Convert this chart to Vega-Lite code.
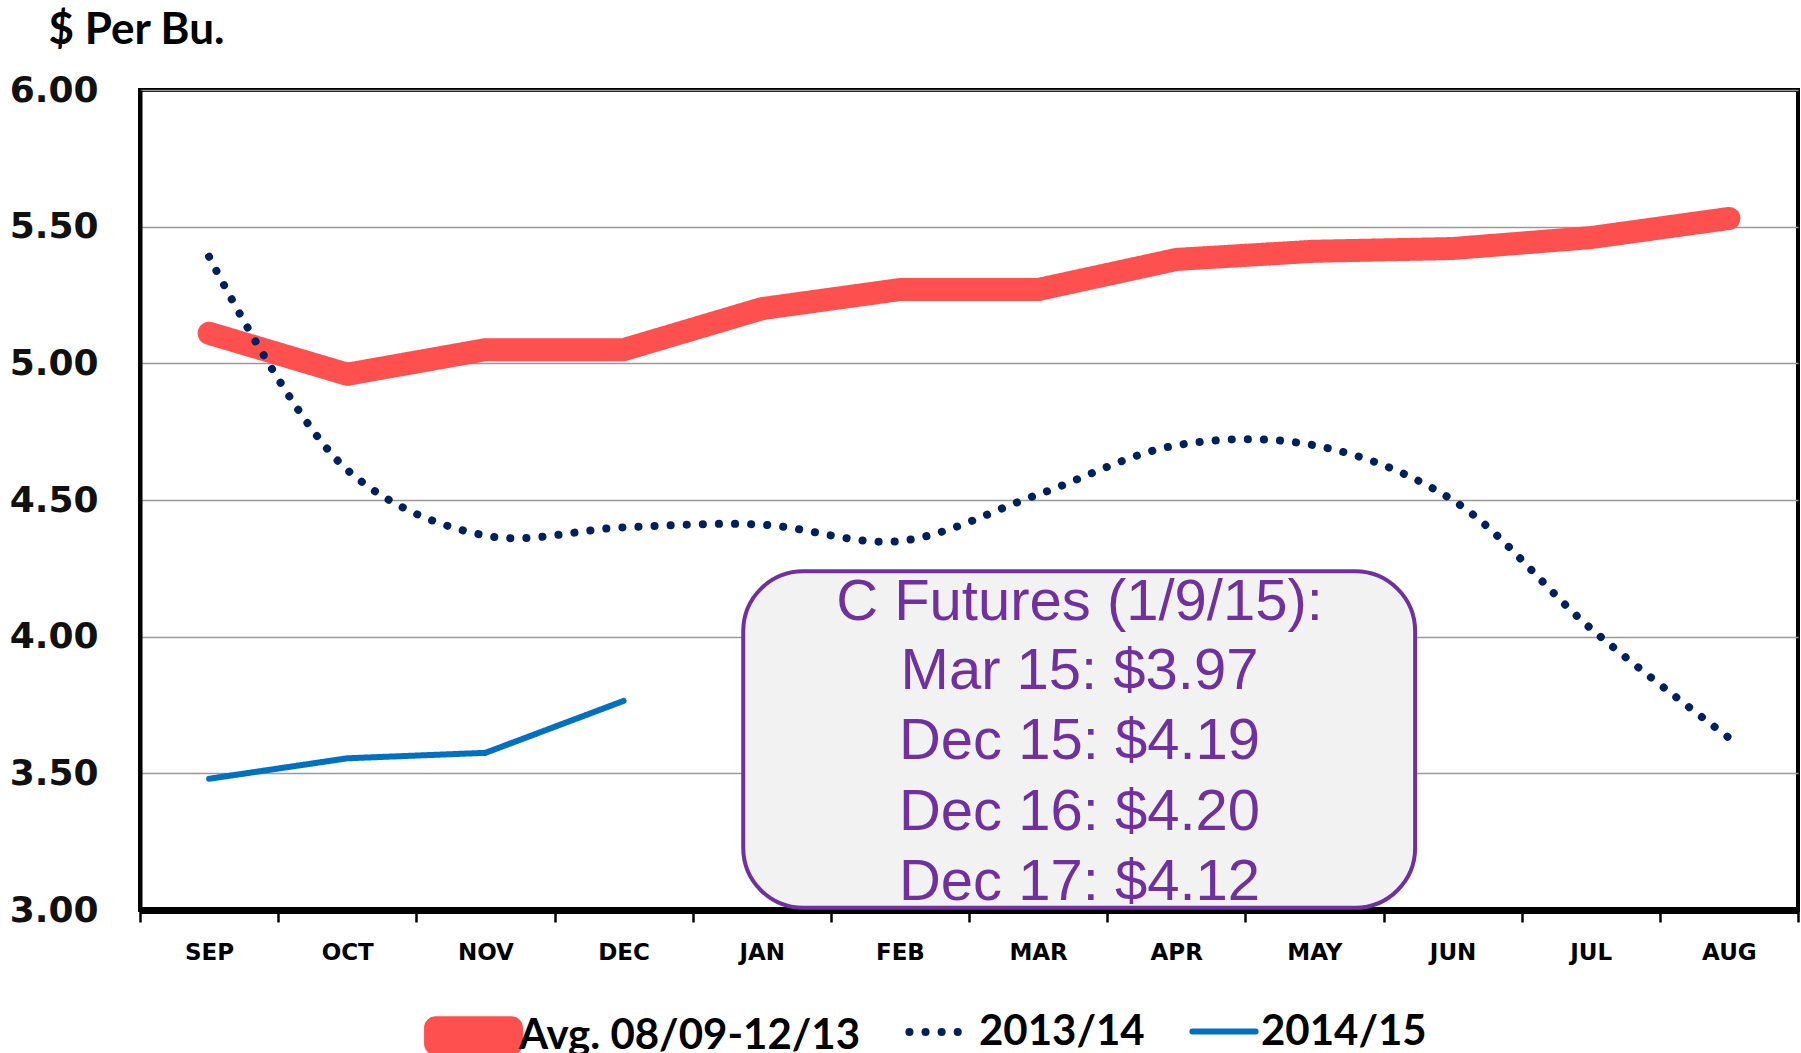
{
  "$schema": "https://vega.github.io/schema/vega-lite/v6.json",
  "width": 1658,
  "height": 820,
  "autosize": {"type": "none"},
  "padding": {"left": 140, "top": 90, "right": 3, "bottom": 143},
  "background": "white",
  "config": {
    "view": {"stroke": "black", "strokeWidth": 4},
    "legend": {
      "orient": "none",
      "direction": "horizontal",
      "legendX": 290,
      "legendY": 902,
      "symbolType": "M-1,0H1",
      "symbolSize": 4000,
      "symbolStrokeWidth": 7,
      "labelFont": "Lato",
      "labelFontSize": 42,
      "labelFontWeight": "bold",
      "labelColor": "black",
      "labelLimit": 600,
      "labelOffset": 2,
      "columnPadding": 44,
      "padding": 0,
      "title": null
    }
  },
  "datasets": {
    "prices": [
      {"month": "SEP", "series": "Avg. 08/09-12/13", "price": 5.11},
      {"month": "OCT", "series": "Avg. 08/09-12/13", "price": 4.96},
      {"month": "NOV", "series": "Avg. 08/09-12/13", "price": 5.05},
      {"month": "DEC", "series": "Avg. 08/09-12/13", "price": 5.05},
      {"month": "JAN", "series": "Avg. 08/09-12/13", "price": 5.20},
      {"month": "FEB", "series": "Avg. 08/09-12/13", "price": 5.27},
      {"month": "MAR", "series": "Avg. 08/09-12/13", "price": 5.27},
      {"month": "APR", "series": "Avg. 08/09-12/13", "price": 5.38},
      {"month": "MAY", "series": "Avg. 08/09-12/13", "price": 5.41},
      {"month": "JUN", "series": "Avg. 08/09-12/13", "price": 5.42},
      {"month": "JUL", "series": "Avg. 08/09-12/13", "price": 5.46},
      {"month": "AUG", "series": "Avg. 08/09-12/13", "price": 5.53},
      {"month": "SEP", "series": "2013/14", "price": 5.39},
      {"month": "OCT", "series": "2013/14", "price": 4.61},
      {"month": "NOV", "series": "2013/14", "price": 4.37},
      {"month": "DEC", "series": "2013/14", "price": 4.40},
      {"month": "JAN", "series": "2013/14", "price": 4.41},
      {"month": "FEB", "series": "2013/14", "price": 4.35},
      {"month": "MAR", "series": "2013/14", "price": 4.52},
      {"month": "APR", "series": "2013/14", "price": 4.70},
      {"month": "MAY", "series": "2013/14", "price": 4.70},
      {"month": "JUN", "series": "2013/14", "price": 4.50},
      {"month": "JUL", "series": "2013/14", "price": 4.03},
      {"month": "AUG", "series": "2013/14", "price": 3.63},
      {"month": "SEP", "series": "2014/15", "price": 3.48},
      {"month": "OCT", "series": "2014/15", "price": 3.555},
      {"month": "NOV", "series": "2014/15", "price": 3.575},
      {"month": "DEC", "series": "2014/15", "price": 3.765}
    ],
    "box": [
      {"left": 4.366, "right": 9.229, "top": 4.239, "bottom": 3.008}
    ],
    "boxText": [
      {"text": "C Futures (1/9/15):", "xpos": 6.80, "ypos": 4.125},
      {"text": "Mar 15: $3.97", "xpos": 6.80, "ypos": 3.869},
      {"text": "Dec 15: $4.19", "xpos": 6.80, "ypos": 3.613},
      {"text": "Dec 16: $4.20", "xpos": 6.80, "ypos": 3.356},
      {"text": "Dec 17: $4.12", "xpos": 6.80, "ypos": 3.100}
    ]
  },
  "layer": [
    {
      "data": {"name": "prices"},
      "encoding": {
        "x": {
          "field": "month", "type": "nominal",
          "scale": {"type": "band", "domain": ["SEP","OCT","NOV","DEC","JAN","FEB","MAR","APR","MAY","JUN","JUL","AUG"], "paddingInner": 0, "paddingOuter": 0},
          "axis": {
            "title": null, "labelAngle": 0, "tickBand": "extent",
            "domainColor": "black", "domainWidth": 7,
            "tickColor": "black", "tickWidth": 2.5, "tickSize": 12,
            "labelFont": "DejaVu Sans", "labelFontWeight": "bold", "labelFontSize": 23, "labelColor": "black",
            "labelPadding": 19, "grid": false
          }
        },
        "y": {
          "field": "price", "type": "quantitative",
          "scale": {"domain": [3, 6], "nice": false, "zero": false},
          "axis": {
            "title": "$ Per Bu.", "titleAngle": 0, "titleAlign": "left", "titleBaseline": "middle",
            "titleX": -92, "titleY": -60, "titleFont": "Lato", "titleFontSize": 44, "titleFontWeight": "bold", "titleColor": "black",
            "values": [3, 3.5, 4, 4.5, 5, 5.5, 6], "format": ".2f",
            "ticks": false, "domainColor": "black", "domainWidth": 4,
            "grid": true, "gridColor": "#9a9a9a", "gridWidth": 1.5,
            "labelFont": "DejaVu Sans", "labelFontWeight": "bold", "labelFontSize": 36, "labelColor": "#111111",
            "labelPadding": 42
          }
        },
        "color": {"field": "series", "type": "nominal", "scale": {"domain": ["Avg. 08/09-12/13", "2013/14", "2014/15"], "range": ["#FF5050", "#002060", "#0070C0"]}, "legend": {"symbolType": "M-1,0H1", "encode": {"symbols": {"update": {"strokeCap": {"value": "round"}, "strokeJoin": {"value": "round"}, "shape": {"signal": "datum.value === 'Avg. 08/09-12/13' ? 'M-1.2,-0.25H1.2V0.25H-1.2Z' : 'M-1,0H1'"}, "fill": {"signal": "datum.value === 'Avg. 08/09-12/13' ? '#FF5050' : 'transparent'"}}}}}},
        "strokeDash": {"field": "series", "type": "nominal", "scale": {"domain": ["Avg. 08/09-12/13", "2013/14", "2014/15"], "range": [[1, 0], [0.1, 16], [1, 0]]}, "legend": {"symbolType": "M-1,0H1", "encode": {"symbols": {"update": {"strokeCap": {"value": "round"}, "strokeJoin": {"value": "round"}, "shape": {"signal": "datum.value === 'Avg. 08/09-12/13' ? 'M-1.2,-0.25H1.2V0.25H-1.2Z' : 'M-1,0H1'"}, "fill": {"signal": "datum.value === 'Avg. 08/09-12/13' ? '#FF5050' : 'transparent'"}}}}}},
        "strokeWidth": {"field": "series", "type": "nominal", "scale": {"type": "ordinal", "domain": ["Avg. 08/09-12/13", "2013/14", "2014/15"], "range": [23, 8, 6]}, "legend": null}
      },
      "layer": [
        {
          "transform": [{"filter": "datum.series === 'Avg. 08/09-12/13'"}],
          "mark": {"type": "line", "strokeCap": "round", "strokeJoin": "round"}
        },
        {
          "transform": [{"filter": "datum.series === '2013/14'"}],
          "mark": {"type": "line", "strokeCap": "round", "strokeJoin": "round", "interpolate": "catmull-rom"}
        },
        {
          "transform": [{"filter": "datum.series === '2014/15'"}],
          "mark": {"type": "line", "strokeCap": "round", "strokeJoin": "round"}
        }
      ]
    },
    {
      "layer": [
        {
          "data": {"name": "box"},
          "mark": {"type": "rect", "cornerRadius": 60, "fill": "#F2F2F2", "stroke": "#7030A0", "strokeWidth": 4},
          "encoding": {
            "x": {"field": "left", "type": "quantitative", "scale": {"domain": [0, 12], "nice": false, "zero": false}, "axis": null},
            "x2": {"field": "right"},
            "y": {"field": "top", "type": "quantitative"},
            "y2": {"field": "bottom"}
          }
        },
        {
          "data": {"name": "boxText"},
          "mark": {"type": "text", "font": "Liberation Sans", "fontSize": 58, "color": "#7030A0", "align": "center", "baseline": "middle"},
          "encoding": {
            "x": {"field": "xpos", "type": "quantitative", "axis": null},
            "y": {"field": "ypos", "type": "quantitative"},
            "text": {"field": "text"}
          }
        }
      ]
    }
  ],
  "resolve": {"scale": {"x": "independent"}}
}
